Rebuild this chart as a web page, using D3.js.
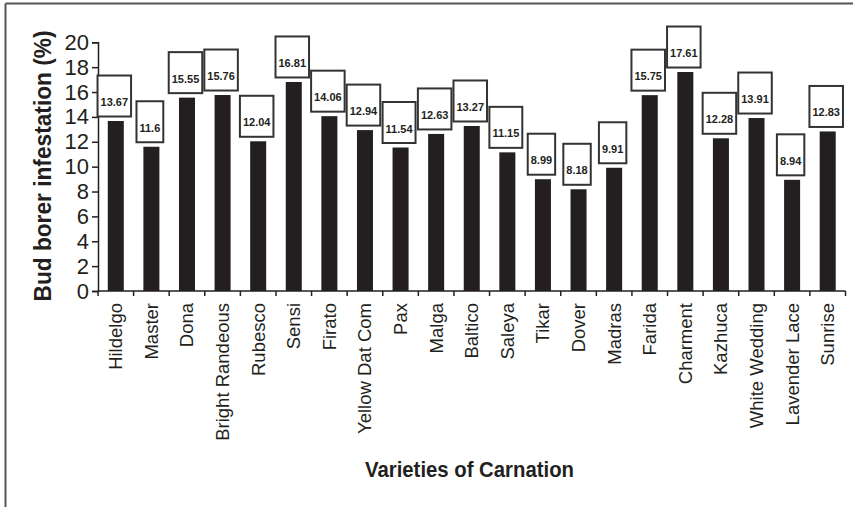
<!DOCTYPE html>
<html>
<head>
<meta charset="utf-8">
<script src="https://cdn.jsdelivr.net/npm/d3@7/dist/d3.min.js"></script>
<style>
  html, body { margin: 0; padding: 0; background: #fff; }
  svg { display: block; font-family: "Liberation Sans", Arial, sans-serif; }
</style>
</head>
<body>
<svg id="chart" width="853" height="507"></svg>
<script>
// Carnation varieties and their bud borer infestation (%)
const varieties = ["Hildelgo", "Master", "Dona", "Bright Randeous", "Rubesco", "Sensi", "Firato",
  "Yellow Dat Com", "Pax", "Malga", "Baltico", "Saleya", "Tikar", "Dover", "Madras", "Farida",
  "Charment", "Kazhuca", "White Wedding", "Lavender Lace", "Sunrise"];
const infestation = [13.67, 11.6, 15.55, 15.76, 12.04, 16.81, 14.06, 12.94, 11.54, 12.63, 13.27,
  11.15, 8.99, 8.18, 9.91, 15.75, 17.61, 12.28, 13.91, 8.94, 12.83];
const valueLabels = ["13.67", "11.6", "15.55", "15.76", "12.04", "16.81", "14.06", "12.94", "11.54",
  "12.63", "13.27", "11.15", "8.99", "8.18", "9.91", "15.75", "17.61", "12.28", "13.91", "8.94", "12.83"];
const yTicks = [0, 2, 4, 6, 8, 10, 12, 14, 16, 18, 20];

const svg = d3.select("#chart");
const W = 853, H = 507;

// outer frame (top and left edges)
svg.append("line").attr("x1", 5.5).attr("x2", W).attr("y1", 3.5).attr("y2", 3.5)
  .attr("stroke", "#555").attr("stroke-width", 2);
svg.append("line").attr("x1", 5.5).attr("x2", 5.5).attr("y1", 3.5).attr("y2", H)
  .attr("stroke", "#555").attr("stroke-width", 2);

const x = d3.scaleBand().domain(varieties).range([98, 845.5]).paddingInner(0.55).paddingOuter(0.275);
const xOuter = d3.scaleBand().domain(varieties).range([98, 845.5]);
const y = d3.scaleLinear().domain([0, 20]).range([291, 42.3]);

const data = varieties.map((v, i) => ({ name: v, value: infestation[i], label: valueLabels[i] }));

// bars
svg.append("g").selectAll("rect").data(data).join("rect")
  .attr("x", d => x(d.name))
  .attr("y", d => y(d.value))
  .attr("width", x.bandwidth())
  .attr("height", d => y(0) - y(d.value))
  .attr("fill", "#231f20");

// y axis
const yAxis = svg.append("g").attr("transform", "translate(98,0)")
  .call(d3.axisLeft(y).tickValues(yTicks).tickSize(6).tickPadding(3).tickFormat(d3.format("d")));
yAxis.selectAll("text").attr("font-size", 22).attr("fill", "#231f20")
  .attr("font-family", "Liberation Sans, Arial, sans-serif");
yAxis.selectAll("line, path").attr("stroke", "#231f20").attr("stroke-width", 1.5);

// x axis: ticks at category boundaries
const xAxisG = svg.append("g");
xAxisG.append("line").attr("x1", 98).attr("x2", 845.5).attr("y1", 291).attr("y2", 291)
  .attr("stroke", "#231f20").attr("stroke-width", 1.5);
const boundaries = varieties.map(v => xOuter(v)).concat([xOuter.range()[1]]);
xAxisG.selectAll("line.tick").data(boundaries).join("line").attr("class", "tick")
  .attr("x1", d => d).attr("x2", d => d).attr("y1", 291).attr("y2", 296)
  .attr("stroke", "#231f20").attr("stroke-width", 1.5);

// category labels, rotated
svg.append("g").selectAll("text").data(varieties).join("text")
  .attr("transform", d => `translate(${x(d) + x.bandwidth() / 2 + 6.5},303) rotate(-90)`)
  .attr("text-anchor", "end")
  .attr("font-size", 18.5)
  .attr("fill", "#231f20")
  .text(d => d);

// value boxes above bars
const boxes = svg.append("g").selectAll("g").data(data).join("g");
boxes.each(function(d) {
  const g = d3.select(this);
  const cx = x(d.name) + x.bandwidth() / 2 - 1.5;
  const bottom = y(d.value) - 4.5;
  const t = g.append("text")
    .attr("x", cx).attr("y", bottom - 10.5)
    .attr("text-anchor", "middle")
    .attr("font-size", 11).attr("font-weight", "bold").attr("fill", "#231f20")
    .text(d.label);
  const tw = t.node().getComputedTextLength();
  const bw = tw + 6;
  g.insert("rect", "text")
    .attr("x", cx - bw / 2).attr("y", bottom - 41)
    .attr("width", bw).attr("height", 41)
    .attr("fill", "#fff").attr("stroke", "#333").attr("stroke-width", 2);
});

// axis titles
svg.append("text")
  .attr("transform", "translate(50.5,166) rotate(-90)")
  .attr("text-anchor", "middle")
  .attr("font-size", 24).attr("font-weight", "bold").attr("fill", "#231f20")
  .attr("textLength", 271).attr("lengthAdjust", "spacingAndGlyphs")
  .text("Bud borer infestation (%)");

svg.append("text")
  .attr("x", 469.5).attr("y", 476.5)
  .attr("text-anchor", "middle")
  .attr("font-size", 22).attr("font-weight", "bold").attr("fill", "#231f20")
  .attr("textLength", 209).attr("lengthAdjust", "spacingAndGlyphs")
  .text("Varieties of Carnation");
</script>
</body>
</html>
